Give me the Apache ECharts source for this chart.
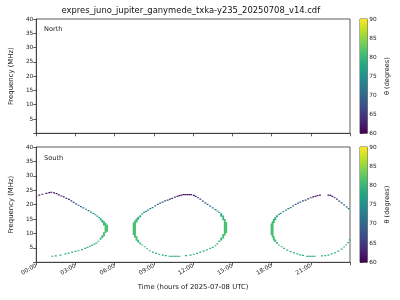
<!DOCTYPE html>
<html><head><meta charset="utf-8">
<script src="https://cdn.jsdelivr.net/npm/echarts@6/dist/echarts.min.js"></script>
<style>html,body{margin:0;padding:0;background:#fff}#c{width:400px;height:300px}</style>
</head><body><div id="c"></div>
<script>
const chartTitle = 'expres_juno_jupiter_ganymede_txka-y235_20250708_v14.cdf';
const hourTicks = [0, 3, 6, 9, 12, 15, 18, 21];
const hourLabels = ['00:00', '03:00', '06:00', '09:00', '12:00', '15:00', '18:00', '21:00'];
const freqTicks = [5, 10, 15, 20, 25, 30, 35, 40];
const thetaTicks = [60, 65, 70, 75, 80, 85, 90];
const viridis = ['#440154', '#482475', '#414487', '#355f8d', '#2a788e', '#21918c', '#22a884', '#44bf70', '#7ad151', '#bddf26', '#fde725'];

// rows: [hour, freqLow (MHz), freqHigh (MHz), theta (deg)]
const northRows = [];
const southArc1 = [
  [0.0,22.7,22.7,63],[0.23,23.3,23.3,62],[0.47,23.6,23.6,62],[0.78,23.9,23.9,61],[1.0,24.2,24.2,61],[1.15,24.3,24.3,61],
  [1.36,24.1,24.1,61],[1.55,23.8,23.8,61.5],[1.73,23.4,23.4,62],[1.92,23.0,23.0,62.5],[2.1,22.7,22.7,63],[2.3,22.2,22.2,64],
  [2.5,21.8,21.8,65],[2.68,21.3,21.3,66],[2.86,20.8,20.8,67],[3.05,20.3,20.3,68],[3.24,19.8,19.8,69],[3.42,19.3,19.3,70],
  [3.6,18.9,18.9,71],[3.8,18.4,18.4,72],[4.0,17.9,17.9,73],[4.18,17.4,17.4,74],[4.37,17.0,17.0,75],[4.52,16.5,16.5,76],
  [4.67,16.0,16.0,77],[4.8,15.5,15.6,77.5],
  [4.92,14.6,15.3,78],[5.05,13.8,14.8,79],[5.18,12.8,14.2,80],[5.3,10.2,13.6,81],[5.42,10.6,13.0,81],
  [5.18,9.0,10.4,81],[5.05,8.4,9.4,80],[4.92,7.8,8.5,80],
  [4.75,7.2,7.4,80],[4.6,6.6,6.7,80],[4.45,6.3,6.3,80],[4.28,5.9,5.9,79.5],[4.1,5.6,5.6,79.5],[3.92,5.2,5.2,79],
  [3.74,4.8,4.8,79],[3.5,4.4,4.4,79],[3.23,4.0,4.0,78.5],[3.0,3.8,3.8,78.5],[2.74,3.5,3.5,78],[2.48,3.2,3.2,78],
  [2.23,2.9,2.9,78],[1.85,2.5,2.5,77.5],[1.5,2.2,2.2,77],[1.23,2.1,2.1,77]
];
const southArc2 = [
  [7.45,9.5,13.8,81],[7.55,8.5,14.5,81],[7.67,13.8,15.2,80],[7.67,7.5,9.0,81],[7.8,14.8,15.8,79],[7.8,6.9,7.8,80],
  [7.95,15.6,16.3,78],[7.95,6.3,6.9,80],
  [8.1,16.8,16.8,77],[8.25,17.3,17.3,76],[8.4,17.7,17.7,75],[8.54,18.1,18.1,74],[8.72,18.6,18.6,73],[8.9,19.0,19.0,72],
  [9.1,19.6,19.6,71],[9.3,20.1,20.1,70],[9.48,20.5,20.5,69],[9.67,20.9,20.9,68],[9.86,21.3,21.3,67],[10.05,21.6,21.6,66],
  [10.22,21.9,21.9,65],[10.4,22.2,22.2,64.5],[10.6,22.6,22.6,64],[10.8,22.9,22.9,63],[10.95,23.1,23.1,62.5],[11.1,23.3,23.3,62],
  [11.26,23.5,23.5,61.5],[11.4,23.5,23.5,61.5],[11.55,23.5,23.5,61.5],[11.7,23.5,23.5,61.5],[11.85,23.5,23.5,61.5],
  [12.05,23.2,23.2,62],[12.2,22.9,22.9,63],[12.37,22.4,22.4,64],[12.55,21.9,21.9,65],[12.74,21.2,21.2,66.5],[12.93,20.6,20.6,68],
  [13.1,20.1,20.1,69],[13.3,19.5,19.5,70.5],[13.5,18.9,18.9,72],[13.7,18.3,18.3,73.5],[13.85,17.8,17.8,75],[14.0,17.2,17.5,77],
  [14.15,15.8,17.0,78],[14.3,14.6,16.2,80],[14.42,9.3,15.0,81],[14.53,10.2,14.0,81],[14.3,8.3,9.8,81],[14.15,7.6,8.6,80],[14.0,7.0,7.6,80],
  [13.85,6.4,6.4,80],[13.7,5.7,5.8,80],[13.5,5.2,5.2,79.5],[13.3,4.8,4.8,79.5],[13.05,4.3,4.3,79],[12.8,3.9,3.9,79],
  [12.55,3.5,3.5,78.5],[12.3,3.1,3.1,78.5],[12.05,2.8,2.8,78],[11.8,2.5,2.5,78],[11.45,2.3,2.3,77.5],
  [10.2,2.1,2.1,77],[10.35,2.1,2.1,77],[10.5,2.1,2.1,77],[10.65,2.1,2.1,77],[10.8,2.1,2.1,77],[10.95,2.1,2.1,77],
  [9.9,2.3,2.3,77.5],[9.67,2.5,2.5,78],[9.4,2.8,2.8,78],[9.16,3.1,3.1,78.5],[8.92,3.5,3.5,79],[8.67,4.0,4.0,79],
  [8.48,4.7,4.7,79.5],[8.29,5.4,5.4,80],[8.1,6.0,6.0,80]
];
const southArc3 = [
  [18.0,9.5,13.5,81],[18.08,8.6,14.2,81],[18.17,13.6,15.0,80],[18.17,7.6,9.0,81],[18.28,14.6,15.7,79],[18.28,7.0,7.9,80],
  [18.42,15.6,16.3,78],[18.42,6.4,7.0,80],
  [18.58,16.6,16.6,77],[18.7,17.0,17.0,76],[18.9,17.6,17.6,75],[19.1,18.1,18.1,74],[19.28,18.6,18.6,73],[19.46,19.0,19.0,72],
  [19.65,19.6,19.6,71],[19.84,20.1,20.1,70],[20.02,20.5,20.5,69],[20.2,20.9,20.9,68],[20.4,21.3,21.3,67],[20.6,21.6,21.6,66],
  [20.8,22.0,22.0,65],[21.0,22.4,22.4,64],[21.18,22.7,22.7,63.5],[21.35,22.9,22.9,63],[21.52,23.1,23.1,62.5],[21.7,23.3,23.3,62],
  [22.35,23.3,23.3,62],[22.5,23.2,23.2,62.5],[22.65,22.9,22.9,63.5],[22.82,22.4,22.4,64.5],[23.0,21.9,21.9,66],[23.18,21.2,21.2,67],
  [23.36,20.6,20.6,68.5],[23.55,19.9,19.9,70],[23.74,19.2,19.2,71],[23.9,18.6,18.6,72],
  [18.58,6.0,6.0,80],[18.77,5.4,5.4,80],[18.96,4.8,4.8,79.5],[19.2,4.2,4.2,79],[19.46,3.7,3.7,79],[19.72,3.3,3.3,78.5],
  [19.97,2.9,2.9,78],[20.2,2.6,2.6,78],[20.4,2.4,2.4,77.5],
  [20.7,2.1,2.1,77],[20.85,2.1,2.1,77],[21.0,2.1,2.1,77],[21.15,2.1,2.1,77],[21.3,2.1,2.1,77],
  [21.85,2.2,2.2,77.5],[22.1,2.3,2.3,78],[22.35,2.5,2.5,78],[22.6,2.9,2.9,78.5],[22.85,3.3,3.3,79],[23.1,3.9,3.9,79],
  [23.36,4.6,4.6,79.5],[23.55,5.3,5.3,80],[23.7,6.0,6.0,80],[23.85,6.8,6.8,80],[23.97,7.6,7.9,80.5]
];

const FONT = 'DejaVu Sans';
const AX = '#333';
const TXT = '#222';

function renderSpan(params, api) {
  const t = api.value(0), lo = api.value(1), hi = api.value(2);
  const top = api.coord([t, hi]), bot = api.coord([t, lo]);
  const w = 1.9;
  let y0 = top[1], h = bot[1] - top[1];
  if (h < 1.2) { y0 -= (1.2 - h) / 2; h = 1.2; }
  return { type: 'rect', shape: { x: top[0] - w / 2, y: y0, width: w, height: h }, style: { fill: api.visual('color') } };
}
function renderBar(params, api) {
  const p1 = api.coord([api.value(0), api.value(3)]);
  const p2 = api.coord([api.value(1), api.value(2)]);
  return { type: 'rect', shape: { x: p1[0], y: p1[1], width: p2[0] - p1[0], height: p2[1] - p1[1] },
    style: { fill: { type: 'linear', x: 0, y: 1, x2: 0, y2: 0,
      colorStops: viridis.map((c, i) => ({ offset: i / (viridis.length - 1), color: c })) } } };
}

function timeAxis(gi, showLabels) {
  return {
    type: 'value', gridIndex: gi, min: 0, max: 24, interval: 3,
    axisLine: { show: true, lineStyle: { color: AX, width: 0.8 } },
    axisTick: { show: true, length: 3, lineStyle: { color: AX, width: 0.8 } },
    axisLabel: { show: showLabels, rotate: 30, fontSize: 5.8, color: TXT, fontFamily: FONT, margin: 3,
      formatter: v => { const i = hourTicks.indexOf(v); return i >= 0 ? hourLabels[i] : ''; } },
    splitLine: { show: false },
    name: showLabels ? 'Time (hours of 2025-07-08 UTC)' : '', nameLocation: 'middle', nameGap: 21,
    nameTextStyle: { fontSize: 6.9, color: TXT, fontFamily: FONT }
  };
}
function freqAxis(gi) {
  return {
    type: 'value', gridIndex: gi, min: 0, max: 40, interval: 5,
    axisLine: { show: true, lineStyle: { color: AX, width: 0.8 } },
    axisTick: { show: true, length: 3, lineStyle: { color: AX, width: 0.8 } },
    axisLabel: { fontSize: 5.8, color: TXT, fontFamily: FONT, margin: 3,
      formatter: v => freqTicks.indexOf(v) >= 0 ? String(v) : '' },
    splitLine: { show: false },
    name: 'Frequency (MHz)', nameLocation: 'middle', nameGap: 18, nameRotate: 90,
    nameTextStyle: { fontSize: 6.9, color: TXT, fontFamily: FONT }
  };
}
function cbXAxis(gi) { return { type: 'value', gridIndex: gi, min: 0, max: 1, show: false }; }
function cbYAxis(gi) {
  return {
    type: 'value', gridIndex: gi, position: 'right', min: 60, max: 90, interval: 5,
    axisLine: { show: false },
    axisTick: { show: true, length: 3, lineStyle: { color: AX, width: 0.8 } },
    axisLabel: { fontSize: 5.8, color: TXT, fontFamily: FONT, margin: 2,
      formatter: v => thetaTicks.indexOf(v) >= 0 ? String(v) : '' },
    splitLine: { show: false },
    name: 'θ (degrees)', nameLocation: 'middle', nameGap: 16, nameRotate: 90,
    nameTextStyle: { fontSize: 6.6, color: TXT, fontFamily: FONT }
  };
}
const gridStyle = { show: true, borderColor: AX, borderWidth: 0.8, backgroundColor: 'transparent', containLabel: false };

const chart = echarts.init(document.getElementById('c'), null, { renderer: 'canvas', width: 400, height: 300 });
chart.setOption({
  animation: false,
  backgroundColor: '#fff',
  grid: [
    Object.assign({ left: 31.7, top: 19, width: 318.3, height: 114.3 }, gridStyle),
    Object.assign({ left: 31.7, top: 147, width: 318.3, height: 115.3 }, gridStyle),
    Object.assign({ left: 360, top: 19, width: 7.3, height: 114.3 }, gridStyle),
    Object.assign({ left: 360, top: 147, width: 7.3, height: 115.3 }, gridStyle)
  ],
  xAxis: [timeAxis(0, false), timeAxis(1, true), cbXAxis(2), cbXAxis(3)],
  yAxis: [freqAxis(0), freqAxis(1), cbYAxis(2), cbYAxis(3)],
  visualMap: [{ type: 'continuous', show: false, min: 60, max: 90, dimension: 3, seriesIndex: [0, 1],
    inRange: { color: viridis } }],
  series: [
    { type: 'custom', xAxisIndex: 0, yAxisIndex: 0, renderItem: renderSpan, data: northRows, clip: true },
    { type: 'custom', xAxisIndex: 1, yAxisIndex: 1, renderItem: renderSpan, clip: true,
      data: southArc1.concat(southArc2, southArc3) },
    { type: 'custom', xAxisIndex: 2, yAxisIndex: 2, renderItem: renderBar, data: [[0, 1, 60, 90]], silent: true },
    { type: 'custom', xAxisIndex: 3, yAxisIndex: 3, renderItem: renderBar, data: [[0, 1, 60, 90]], silent: true }
  ],
  graphic: [
    { type: 'text', x: 190.8, y: 11, style: { text: chartTitle, fontSize: 8.4, fontFamily: FONT, fill: '#111', align: 'center', verticalAlign: 'middle' } },
    { type: 'text', x: 44, y: 29.7, style: { text: 'North', fontSize: 6.6, fontFamily: FONT, fill: TXT, align: 'left', verticalAlign: 'middle' } },
    { type: 'text', x: 44, y: 158.3, style: { text: 'South', fontSize: 6.6, fontFamily: FONT, fill: TXT, align: 'left', verticalAlign: 'middle' } }
  ]
});
</script></body></html>
